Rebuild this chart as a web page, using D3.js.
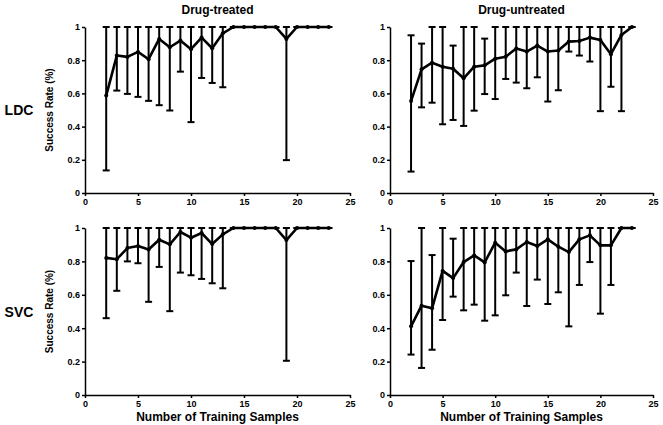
<!DOCTYPE html>
<html>
<head>
<meta charset="utf-8">
<script src="https://cdn.jsdelivr.net/npm/d3@7"></script>
<style>
  body { margin: 0; background: #fff; }
  svg { font-family: "Liberation Sans", Arial, Helvetica, sans-serif; font-weight: bold; }
  .axis path, .axis line { stroke: #000; stroke-width: 1.5; }
  .axis text { font-size: 9px; font-weight: bold; fill: #000; }
</style>
</head>
<body>
<div id="chart"></div>
<script>
// training sample counts (x values)
const samples = [2, 3, 4, 5, 6, 7, 8, 9, 10, 11, 12, 13, 14, 15, 16, 17, 18, 19, 20, 21, 22, 23]
const colTitles = ['Drug-treated', 'Drug-untreated']
const rowTitles = ['LDC', 'SVC']
const xTicks = [0, 5, 10, 15, 20, 25]
const yTicks = [0, 0.2, 0.4, 0.6, 0.8, 1]

// LDC, drug-treated
const ldcTreatedMean = [0.587, 0.828, 0.82, 0.85, 0.806, 0.928, 0.878, 0.918, 0.866, 0.936, 0.872, 0.962, 1, 1, 1, 1, 1, 0.928, 1, 1, 1, 1]
const ldcTreatedLow = [0.136, 0.617, 0.597, 0.579, 0.555, 0.529, 0.497, 0.731, 0.427, 0.693, 0.663, 0.637, 1, 1, 1, 1, 1, 0.198, 1, 1, 1, 1]
const ldcTreatedHigh = [1, 1, 1, 1, 1, 1, 1, 1, 1, 1, 1, 1, 1, 1, 1, 1, 1, 1, 1, 1, 1, 1]

// LDC, drug-untreated
const ldcUntreatedMean = [0.554, 0.745, 0.785, 0.761, 0.749, 0.691, 0.761, 0.769, 0.809, 0.821, 0.87, 0.852, 0.888, 0.852, 0.858, 0.912, 0.916, 0.936, 0.922, 0.836, 0.952, 1]
const ldcUntreatedLow = [0.129, 0.516, 0.544, 0.414, 0.44, 0.404, 0.496, 0.596, 0.566, 0.687, 0.665, 0.631, 0.697, 0.551, 0.619, 0.852, 0.828, 0.792, 0.493, 0.64, 0.493, 1]
const ldcUntreatedHigh = [0.95, 0.9, 1, 1, 0.888, 1, 1, 0.93, 1, 1, 1, 1, 1, 1, 1, 1, 1, 1, 1, 1, 1, 1]

// SVC, drug-treated
const svcTreatedMean = [0.821, 0.813, 0.88, 0.892, 0.871, 0.93, 0.902, 0.976, 0.942, 0.97, 0.904, 0.962, 1, 1, 1, 1, 1, 0.928, 1, 1, 1, 1]
const svcTreatedLow = [0.46, 0.624, 0.8, 0.789, 0.558, 0.767, 0.502, 0.733, 0.717, 0.695, 0.669, 0.639, 1, 1, 1, 1, 1, 0.205, 1, 1, 1, 1]
const svcTreatedHigh = [1, 1, 1, 1, 1, 1, 1, 1, 1, 1, 1, 1, 1, 1, 1, 1, 1, 1, 1, 1, 1, 1]

// SVC, drug-untreated
const svcUntreatedMean = [0.411, 0.535, 0.519, 0.743, 0.7, 0.796, 0.836, 0.794, 0.912, 0.86, 0.872, 0.916, 0.892, 0.932, 0.888, 0.856, 0.932, 0.956, 0.896, 0.896, 1, 1]
const svcUntreatedLow = [0.242, 0.162, 0.271, 0.449, 0.589, 0.507, 0.541, 0.445, 0.477, 0.597, 0.733, 0.533, 0.691, 0.545, 0.615, 0.411, 0.659, 0.796, 0.487, 0.659, 1, 1]
const svcUntreatedHigh = [0.802, 1, 0.838, 1, 0.936, 1, 1, 1, 1, 1, 1, 1, 1, 1, 1, 1, 1, 1, 1, 1, 1, 1]

const panels = [
  {row: 0, col: 0, mean: ldcTreatedMean, low: ldcTreatedLow, high: ldcTreatedHigh},
  {row: 0, col: 1, mean: ldcUntreatedMean, low: ldcUntreatedLow, high: ldcUntreatedHigh},
  {row: 1, col: 0, mean: svcTreatedMean, low: svcTreatedLow, high: svcTreatedHigh},
  {row: 1, col: 1, mean: svcUntreatedMean, low: svcUntreatedLow, high: svcUntreatedHigh}
]

const width = 663, height = 425
const colX = [[85, 350], [390, 653]]
const rowY = [[193, 27], [395, 228]]
const capW = 3.5

const svg = d3.select('#chart').append('svg')
  .attr('width', width)
  .attr('height', height)

panels.forEach(p => {
  const x = d3.scaleLinear().domain([0, 25]).range(colX[p.col])
  const y = d3.scaleLinear().domain([0, 1]).range(rowY[p.row])
  const g = svg.append('g')
  const pts = samples.map((n, i) => ({n, m: p.mean[i], lo: p.low[i], hi: p.high[i]}))

  g.append('g')
    .attr('class', 'axis')
    .attr('transform', `translate(0, ${rowY[p.row][0]})`)
    .call(d3.axisBottom(x).tickValues(xTicks).tickSize(3).tickPadding(3).tickSizeOuter(0))
  g.append('g')
    .attr('class', 'axis')
    .attr('transform', `translate(${colX[p.col][0]}, 0)`)
    .call(d3.axisLeft(y).tickValues(yTicks).tickFormat(d3.format('~g')).tickSize(3).tickPadding(2).tickSizeOuter(0))

  // error bars
  const bars = g.append('g').attr('stroke', '#000').attr('stroke-width', 2)
  bars.selectAll('.eb').data(pts).enter().append('line')
    .attr('x1', d => x(d.n)).attr('x2', d => x(d.n))
    .attr('y1', d => y(d.lo)).attr('y2', d => y(d.hi))
  bars.selectAll('.cap-hi').data(pts).enter().append('line')
    .attr('x1', d => x(d.n) - capW).attr('x2', d => x(d.n) + capW)
    .attr('y1', d => y(d.hi)).attr('y2', d => y(d.hi))
  bars.selectAll('.cap-lo').data(pts).enter().append('line')
    .attr('x1', d => x(d.n) - capW).attr('x2', d => x(d.n) + capW)
    .attr('y1', d => y(d.lo)).attr('y2', d => y(d.lo))

  const line = d3.line().x(d => x(d.n)).y(d => y(d.m))
  g.append('path').datum(pts)
    .attr('d', line)
    .attr('fill', 'none')
    .attr('stroke', '#000')
    .attr('stroke-width', 2.6)
    .attr('stroke-linejoin', 'round')
  g.selectAll('.pt').data(pts).enter().append('circle')
    .attr('cx', d => x(d.n)).attr('cy', d => y(d.m))
    .attr('r', 2)
    .attr('fill', '#000')
})

// column titles
colTitles.forEach((t, i) => {
  svg.append('text')
    .attr('x', (colX[i][0] + colX[i][1]) / 2)
    .attr('y', 14)
    .attr('text-anchor', 'middle')
    .style('font-size', '12px')
    .text(t)
})

// row titles and y labels
rowTitles.forEach((t, i) => {
  const cy = (rowY[i][0] + rowY[i][1]) / 2
  svg.append('text')
    .attr('x', 19)
    .attr('y', cy + 5)
    .attr('text-anchor', 'middle')
    .style('font-size', '14px')
    .text(t)
  svg.append('text')
    .attr('transform', `translate(53, ${cy}) rotate(-90)`)
    .attr('text-anchor', 'middle')
    .style('font-size', '10px')
    .text('Success Rate (%)')
})

// x labels
colX.forEach(c => {
  svg.append('text')
    .attr('x', (c[0] + c[1]) / 2)
    .attr('y', 421)
    .attr('text-anchor', 'middle')
    .style('font-size', '12px')
    .text('Number of Training Samples')
})
</script>
</body>
</html>
